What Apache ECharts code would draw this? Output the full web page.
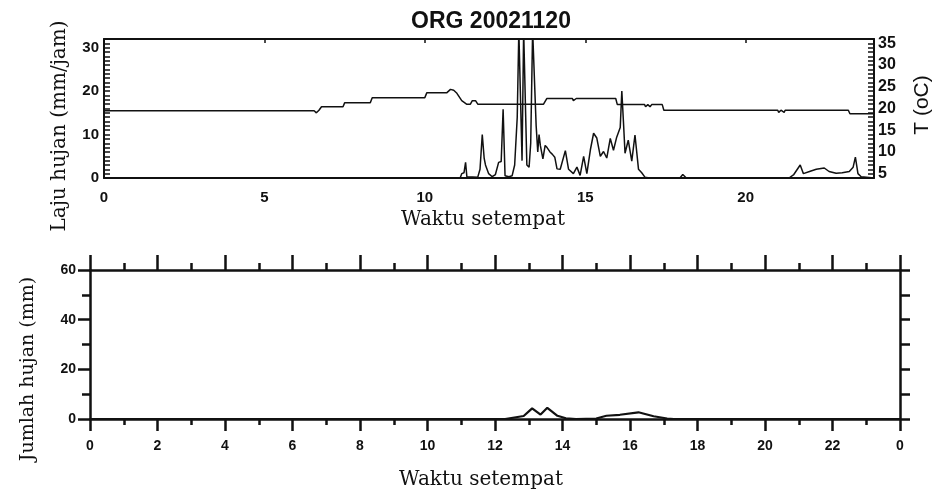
<!DOCTYPE html>
<html>
<head>
<meta charset="utf-8">
<script src="https://cdn.jsdelivr.net/npm/echarts@6/dist/echarts.min.js"></script>
<style>
  html, body { margin: 0; padding: 0; background: #fff; }
  #chart { width: 939px; height: 495px; }
</style>
</head>
<body>
<div id="chart"></div>
<script>
// Laju hujan (mm/jam) - jam lokal
const rainTimes = [0, 11.1, 11.15, 11.22, 11.27, 11.31, 11.65, 11.72, 11.79, 11.85, 11.89, 11.99, 12.1, 12.2, 12.3, 12.38, 12.44, 12.5, 12.62, 12.72, 12.8, 12.88, 12.93, 12.99, 13.03, 13.08, 13.13, 13.18, 13.25, 13.3, 13.36, 13.42, 13.47, 13.52, 13.56, 13.6, 13.68, 13.75, 13.81, 13.9, 13.97, 14.05, 14.12, 14.22, 14.38, 14.48, 14.63, 14.74, 14.84, 14.95, 15.05, 15.16, 15.26, 15.36, 15.47, 15.57, 15.67, 15.78, 15.88, 15.98, 16.09, 16.14, 16.19, 16.24, 16.34, 16.45, 16.55, 16.66, 16.76, 16.86, 17.0, 17.95, 18.04, 18.15, 21.35, 21.5, 21.7, 21.8, 21.99, 22.2, 22.45, 22.6, 22.82, 23.01, 23.23, 23.35, 23.42, 23.5, 23.6, 24];
const rainRate  = [0, 0, 1.0, 1.2, 3.6, 0.3, 0.2, 2.0, 10.0, 4.5, 3.0, 1.0, 0.3, 0.8, 3.6, 3.8, 15.8, 0.5, 0.3, 0.5, 3, 14, 34, 34, 4, 34, 34, 3, 2.5, 8, 34, 34, 12, 6, 10, 7.5, 4.4, 7.5, 7, 6, 5.5, 4.8, 2.1, 2, 6.3, 2, 1, 2.5, 0.6, 5, 1, 6.5, 10.3, 9.2, 5, 6.1, 4.6, 9.1, 6.4, 9.4, 11.6, 20, 13, 5.7, 8.7, 3.9, 9.9, 2, 1.2, 0.2, 0, 0, 0.8, 0, 0, 0.8, 3.0, 1.0, 1.5, 2.0, 2.3, 1.5, 1.1, 1.2, 1.5, 2.5, 4.8, 1.0, 0.3, 0];

// Suhu T (oC)
const tempTimes  = [0, 6.55, 6.62, 6.7, 6.78, 7.45, 7.5, 8.3, 8.36, 9.38, 9.41, 9.45, 10.0, 10.06, 10.68, 10.8, 10.9, 11.0, 11.15, 11.3, 11.42, 11.48, 11.58, 11.65, 13.7, 13.8, 14.6, 14.63, 14.72, 15.95, 16.0, 16.85, 16.88, 16.95, 17.02, 17.07, 17.4, 17.45, 21.0, 21.03, 21.1, 21.2, 21.23, 23.2, 23.25, 24];
const tempValues = [19.5, 19.5, 19.0, 19.6, 20.4, 20.4, 21.3, 21.3, 22.5, 22.5, 22.9, 22.5, 22.5, 23.6, 23.6, 24.4, 24.2, 23.5, 21.8, 21.0, 21.0, 21.8, 21.8, 21.0, 21.0, 22.3, 22.3, 21.8, 22.3, 22.3, 20.9, 20.9, 20.4, 20.9, 20.4, 20.9, 20.9, 19.6, 19.6, 19.1, 19.6, 19.1, 19.6, 19.6, 18.8, 18.8];

// Jumlah hujan (mm)
const sumTimes  = [0, 12.3, 12.35, 12.85, 13.1, 13.35, 13.55, 13.85, 14.1, 14.4, 15.0, 15.3, 15.7, 16.25, 16.7, 17.1, 17.3, 24];
const sumValues = [0, 0, 0.5, 1.2, 4.3, 1.8, 4.5, 1.3, 0.3, 0, 0.2, 1.3, 1.7, 2.7, 1.1, 0.2, 0, 0];

// Label sumbu
const topXLabels = [0, 5, 10, 15, 20];
const rainLabels = [0, 10, 20, 30];
const tempLabels = [5, 10, 15, 20, 25, 30, 35];

const pairs = (xs, ys) => xs.map((x, i) => [x, ys[i]]);
const onlyIn = (list) => (v) => (list.includes(v) ? String(v) : '');

const ink = '#111';
const tickFont = { color: ink, fontFamily: 'Liberation Sans', fontWeight: 'bold' };
const line = (w) => ({ show: true, onZero: false, lineStyle: { color: ink, width: w } });

const chart = echarts.init(document.getElementById('chart'), null, { renderer: 'canvas' });

const option = {
  backgroundColor: '#fff',
  animation: false,
  grid: [
    { left: 104, right: 65, top: 39, height: 139 },
    { left: 90, right: 39, top: 270, height: 149 }
  ],
  graphic: [
    { type: 'text', x: 491, y: 22, style: { text: 'ORG 20021120', font: 'bold 23px "Liberation Sans"', fill: ink, align: 'center', verticalAlign: 'middle' } },
    { type: 'text', x: 483, y: 220, style: { text: 'Waktu setempat', font: '20px "DejaVu Serif"', fill: ink, align: 'center', verticalAlign: 'middle' } },
    { type: 'text', x: 481, y: 480, style: { text: 'Waktu setempat', font: '20px "DejaVu Serif"', fill: ink, align: 'center', verticalAlign: 'middle' } },
    { type: 'text', x: 60, y: 126, rotation: Math.PI / 2, style: { text: 'Laju hujan (mm/jam)', font: '20px "DejaVu Serif"', fill: ink, align: 'center', verticalAlign: 'middle' } },
    { type: 'text', x: 922, y: 105, rotation: Math.PI / 2, style: { text: 'T (oC)', font: '21px "Liberation Sans"', fill: ink, align: 'center', verticalAlign: 'middle' } },
    { type: 'text', x: 28, y: 369, rotation: Math.PI / 2, style: { text: 'Jumlah hujan (mm)', font: '19px "DejaVu Serif"', fill: ink, align: 'center', verticalAlign: 'middle' } }
  ],
  xAxis: [
    {
      type: 'value', gridIndex: 0, min: 0, max: 24, interval: 1, position: 'bottom',
      axisLine: line(2),
      axisTick: { show: false },
      axisLabel: { ...tickFont, fontSize: 15, margin: 12, formatter: onlyIn(topXLabels) },
      splitLine: { show: false }
    },
    {
      type: 'value', gridIndex: 0, min: 0, max: 24, interval: 5, position: 'top',
      axisLine: line(2),
      axisTick: { show: true, length: -4, lineStyle: { color: ink, width: 1.5 } },
      axisLabel: { show: false },
      splitLine: { show: false }
    },
    {
      type: 'value', gridIndex: 1, min: 0, max: 24, interval: 2, position: 'bottom',
      axisLine: line(2.5),
      axisTick: { show: true, length: 12, lineStyle: { color: ink, width: 2.5 } },
      minorTick: { show: true, splitNumber: 2, length: 6, lineStyle: { color: ink, width: 2.5 } },
      axisLabel: { ...tickFont, fontSize: 14, margin: 20, formatter: v => (v === 24 ? '0' : String(v)) },
      splitLine: { show: false }
    },
    {
      type: 'value', gridIndex: 1, min: 0, max: 24, interval: 2, position: 'top',
      axisLine: line(2.5),
      axisTick: { show: true, length: 15, lineStyle: { color: ink, width: 2.5 } },
      minorTick: { show: true, splitNumber: 2, length: 7, lineStyle: { color: ink, width: 2.5 } },
      axisLabel: { show: false },
      splitLine: { show: false }
    }
  ],
  yAxis: [
    {
      type: 'value', gridIndex: 0, min: 0, max: 32, interval: 1, position: 'left',
      axisLine: line(2),
      axisTick: { show: true, inside: true, length: 6, lineStyle: { color: ink, width: 1.5 } },
      minorTick: { show: false },
      axisLabel: { ...tickFont, fontSize: 15, margin: 5, formatter: onlyIn(rainLabels) },
      splitLine: { show: false }
    },
    {
      type: 'value', gridIndex: 0, min: 4, max: 36, interval: 1, position: 'right',
      axisLine: line(2),
      axisTick: { show: true, inside: true, length: 6, lineStyle: { color: ink, width: 1.5 } },
      minorTick: { show: false },
      axisLabel: { ...tickFont, fontSize: 16, margin: 4, formatter: onlyIn(tempLabels) },
      splitLine: { show: false }
    },
    {
      type: 'value', gridIndex: 1, min: 0, max: 60, interval: 20, position: 'left',
      axisLine: line(2.5),
      axisTick: { show: true, length: 12, lineStyle: { color: ink, width: 2.5 } },
      minorTick: { show: true, splitNumber: 2, length: 8, lineStyle: { color: ink, width: 2.5 } },
      axisLabel: { ...tickFont, fontSize: 14, margin: 14 },
      splitLine: { show: false }
    },
    {
      type: 'value', gridIndex: 1, min: 0, max: 60, interval: 10, position: 'right',
      axisLine: line(2.5),
      axisTick: { show: true, length: 10, lineStyle: { color: ink, width: 2.5 } },
      axisLabel: { show: false },
      splitLine: { show: false }
    }
  ],
  series: [
    {
      name: 'Laju hujan', type: 'line', xAxisIndex: 0, yAxisIndex: 0,
      data: pairs(rainTimes, rainRate),
      symbol: 'none', clip: true,
      lineStyle: { color: ink, width: 1.5 }
    },
    {
      name: 'T', type: 'line', xAxisIndex: 0, yAxisIndex: 1,
      data: pairs(tempTimes, tempValues),
      symbol: 'none', clip: true,
      lineStyle: { color: ink, width: 1.5 }
    },
    {
      name: 'Jumlah hujan', type: 'line', xAxisIndex: 2, yAxisIndex: 2,
      data: pairs(sumTimes, sumValues),
      symbol: 'none', clip: true,
      lineStyle: { color: ink, width: 2.2 }
    }
  ]
};

chart.setOption(option);
</script>
</body>
</html>
